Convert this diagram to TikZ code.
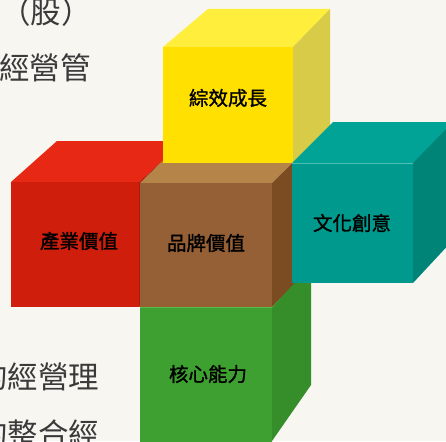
\documentclass[tikz,border=0pt]{standalone}
\usepackage{fontspec}
\newfontfamily\cjk{Noto Sans CJK TC}
\newfontfamily\cjkb[FakeBold=1.3]{Noto Sans CJK TC}
\definecolor{bg}{HTML}{F7F6F0}
\definecolor{txt}{HTML}{3A3A3A}
\definecolor{yF}{HTML}{FFE000}
\definecolor{yT}{HTML}{FFEF3C}
\definecolor{yR}{HTML}{D8CB48}
\definecolor{rF}{HTML}{D01E0C}
\definecolor{rT}{HTML}{E62814}
\definecolor{rR}{HTML}{B01808}
\definecolor{bF}{HTML}{956036}
\definecolor{bT}{HTML}{B58449}
\definecolor{bR}{HTML}{7B4B22}
\definecolor{tF}{HTML}{00998D}
\definecolor{tT}{HTML}{00A396}
\definecolor{tR}{HTML}{008478}
\definecolor{gF}{HTML}{3EA030}
\definecolor{gR}{HTML}{368E2A}
\definecolor{gL}{HTML}{5CB84A}
\tikzset{
  bgtext/.style={anchor=west, inner sep=0pt, text=txt, font=\cjk\fontsize{30.5}{30.5}\selectfont},
  label/.style={inner sep=0pt, text=black, font=\cjkb\fontsize{19.5}{19.5}\selectfont}
}
\begin{document}
\begin{tikzpicture}[x=1pt,y=-1pt]
\useasboundingbox (0,0) rectangle (446,441);
\fill[bg] (0,0) rectangle (446,441);
\begin{scope}
\clip (0,0) rectangle (446,441);
% background text
\node[bgtext] (t1) at (0,12) {（股）};
\node[bgtext] (t2) at (-1,68) {經營管};
\node[bgtext] (t3) at (-23,377) {的經營理};
\node[bgtext] (t4) at (-23,434) {的整合經};
% green cube
\fill[gF] (140,307) -- (272,307) -- (272,450) -- (140,450) -- cycle;
\fill[gR] (272,307) -- (311,261) -- (311,385) -- (272,441) -- cycle;
\draw[gL, line width=0.8pt] (140,307.4) -- (272,307.4) -- (311,261);
% red cube
\fill[rT] (11,182) -- (57,141) -- (185,141) -- (139,182) -- cycle;
\fill[rR] (139,182) -- (185,141) -- (185,270) -- (139,307) -- cycle;
\fill[rF] (11,182) -- (139,182) -- (139,307) -- (11,307) -- cycle;
% brown cube
\fill[bT] (140,183) -- (182,142) -- (314,142) -- (272,183) -- cycle;
\fill[bR] (272,183) -- (314,142) -- (314,262) -- (272,307) -- cycle;
\fill[bF] (140,183) -- (272,183) -- (272,307) -- (140,307) -- cycle;
% yellow cube
\fill[yT] (163,47) -- (208,9) -- (330,9) -- (293,47) -- cycle;
\fill[yR] (293,47) -- (330,9) -- (330,126) -- (293,163) -- cycle;
\fill[yF] (163,47) -- (293,47) -- (293,163) -- (163,163) -- cycle;
% teal cube
\fill[tT] (292,163) -- (333,122) -- (460,122) -- (413,163) -- cycle;
\fill[tR] (413,163) -- (453,122) -- (453,240) -- (413,283) -- cycle;
\fill[tF] (292,163) -- (413,163) -- (413,283) -- (292,283) -- cycle;
\draw[tT!70!white, line width=0.6pt] (292,163.3) -- (413,163.3);
% labels
\node[label] (zx) at (228,98) {綜效成長};
\node[label] (cy) at (79,241) {產業價值};
\node[label] (pp) at (206,243) {品牌價值};
\node[label] (wh) at (352,223) {文化創意};
\node[label] (hx) at (208,374) {核心能力};
\end{scope}
\end{tikzpicture}
\end{document}
